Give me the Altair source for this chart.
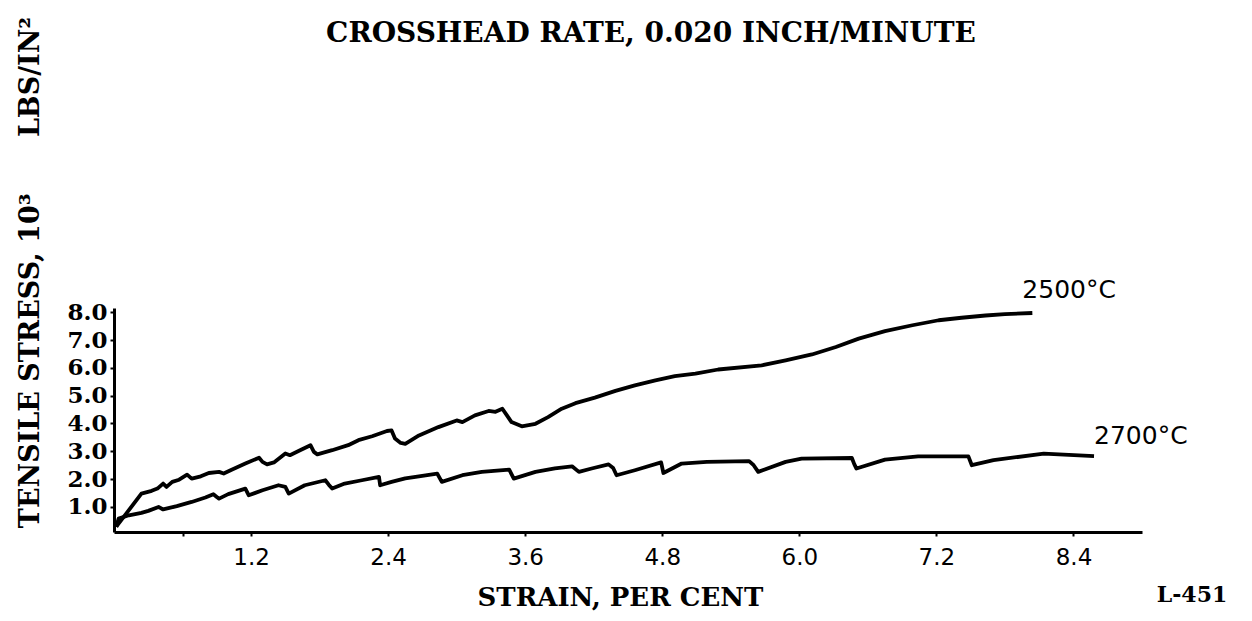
import altair as alt
import pandas as pd

# 2500 °C curve (strain %, stress 10^3 psi)
x_2500 = [0.02, 0.24, 0.33, 0.38, 0.43, 0.46, 0.51, 0.57, 0.64, 0.68, 0.76, 0.83, 0.92, 0.96,
          1.03, 1.15, 1.27, 1.30, 1.34, 1.40, 1.50, 1.54, 1.62, 1.72, 1.75, 1.78, 1.91, 2.05,
          2.14, 2.26, 2.39, 2.43, 2.46, 2.51, 2.55, 2.67, 2.84, 3.00, 3.05, 3.16, 3.28, 3.34,
          3.40, 3.44, 3.48, 3.57, 3.69, 3.80, 3.92, 4.04, 4.21, 4.39, 4.56, 4.74, 4.91, 5.09,
          5.29, 5.67, 5.88, 6.11, 6.32, 6.52, 6.75, 6.99, 7.22, 7.42, 7.63, 7.80, 8.04]
y_2500 = [0.29, 1.48, 1.58, 1.66, 1.84, 1.72, 1.90, 1.98, 2.16, 2.02, 2.10, 2.22, 2.26, 2.20,
          2.34, 2.56, 2.77, 2.62, 2.53, 2.60, 2.92, 2.86, 3.02, 3.22, 2.98, 2.89, 3.04, 3.22,
          3.40, 3.54, 3.73, 3.75, 3.46, 3.30, 3.27, 3.57, 3.87, 4.11, 4.05, 4.29, 4.45, 4.42,
          4.53, 4.29, 4.05, 3.90, 3.99, 4.23, 4.53, 4.73, 4.93, 5.17, 5.37, 5.55, 5.70, 5.79,
          5.94, 6.09, 6.27, 6.48, 6.75, 7.05, 7.32, 7.53, 7.71, 7.80, 7.88, 7.93, 7.97]

# 2700 °C curve
x_2700 = [0.02, 0.04, 0.13, 0.24, 0.30, 0.39, 0.43, 0.55, 0.68, 0.80, 0.87, 0.90, 0.92, 1.00,
          1.15, 1.18, 1.30, 1.44, 1.50, 1.53, 1.67, 1.85, 1.88, 1.91, 2.02, 2.17, 2.32, 2.33,
          2.43, 2.55, 2.64, 2.83, 2.87, 3.05, 3.22, 3.46, 3.50, 3.69, 3.86, 4.01, 4.07, 4.19,
          4.33, 4.37, 4.40, 4.56, 4.79, 4.81, 4.97, 5.19, 5.56, 5.60, 5.64, 5.88, 6.02, 6.46,
          6.48, 6.50, 6.75, 7.04, 7.48, 7.51, 7.70, 8.14, 8.58]
y_2700 = [0.28, 0.58, 0.70, 0.79, 0.86, 1.00, 0.91, 1.03, 1.18, 1.34, 1.46, 1.36, 1.30, 1.46,
          1.66, 1.42, 1.60, 1.78, 1.72, 1.48, 1.78, 1.96, 1.80, 1.66, 1.84, 1.96, 2.08, 1.78,
          1.90, 2.03, 2.08, 2.20, 1.90, 2.14, 2.26, 2.34, 2.02, 2.26, 2.39, 2.46, 2.26, 2.39,
          2.53, 2.40, 2.14, 2.32, 2.60, 2.22, 2.56, 2.62, 2.65, 2.50, 2.26, 2.62, 2.74, 2.76,
          2.55, 2.38, 2.70, 2.82, 2.82, 2.50, 2.68, 2.92, 2.83]

series_names = ["2500°C", "2700°C"]
x_ticks = [0.6, 1.2, 2.4, 3.6, 4.8, 6.0, 7.2, 8.4]
y_ticks = [1, 2, 3, 4, 5, 6, 7, 8]
title_text = "CROSSHEAD RATE, 0.020 INCH/MINUTE"
x_title = "STRAIN, PER CENT"
y_title = "TENSILE STRESS, 10³" + "\u00a0" * 6 + "LBS/IN²"
figure_id = "L-451"

rows = []
for name, xs, ys in [(series_names[0], x_2500, y_2500), (series_names[1], x_2700, y_2700)]:
    for i, (a, b) in enumerate(zip(xs, ys)):
        rows.append({"series": name, "order": i, "strain": a, "stress": b})
df = pd.DataFrame(rows)

end_2500 = pd.DataFrame([{"strain": x_2500[-1], "stress": y_2500[-1], "label": series_names[0]}])
end_2700 = pd.DataFrame([{"strain": x_2700[-1], "stress": y_2700[-1], "label": series_names[1]}])
fig_df = pd.DataFrame([{"t": figure_id}])
title_df = pd.DataFrame([{"t": title_text}])

W, H = 1028, 224
serif = "DejaVu Serif"
sans = "DejaVu Sans"

xscale = alt.Scale(domain=[0, 9.0], nice=False, zero=False)
yscale = alt.Scale(domain=[0.1, 8.15], nice=False, zero=False)

xaxis = alt.Axis(
    values=x_ticks, format=".1f",
    labelExpr="datum.label == '0.6' ? '' : datum.label",
    grid=False, domainColor="black", domainWidth=3, tickColor="black", tickWidth=2,
    tickSize=4, labelFont=sans, labelFontSize=23, labelColor="black", labelPadding=10,
    labelFlush=False, labelOverlap=False, title=x_title, titleFont=serif, titleFontSize=26,
    titleFontWeight="bold", titleColor="black", titleX=506, titleY=52,
    titleBaseline="top", titleAlign="center",
)
yaxis = alt.Axis(
    values=y_ticks, format=".1f", grid=False, domainColor="black", domainWidth=3,
    tickColor="black", tickWidth=2, tickSize=4, labelFont=serif, labelFontSize=23,
    labelFontWeight="bold", labelColor="black", labelPadding=3, labelFlush=False,
    labelOverlap=False, title=y_title, titleFont=serif, titleFontSize=27,
    titleFontWeight="bold", titleColor="black", titleAngle=270, titleX=-84, titleY=-36,
    titleBaseline="middle", titleAlign="center",
)

X = alt.X("strain:Q", scale=xscale, axis=xaxis)
Y = alt.Y("stress:Q", scale=yscale, axis=yaxis)

lines = alt.Chart(df).mark_line(color="black", strokeWidth=3.8, strokeJoin="round").encode(
    x=X, y=Y, detail="series:N", order="order:Q",
)

lab1 = alt.Chart(end_2500).mark_text(
    font=sans, fontSize=25, color="black", align="left", baseline="middle", dx=-10, dy=-23
).encode(x=X, y=Y, text="label:N")
lab2 = alt.Chart(end_2700).mark_text(
    font=sans, fontSize=25, color="black", align="left", baseline="middle", dx=0, dy=-20
).encode(x=X, y=Y, text="label:N")

figlab = alt.Chart(fig_df).mark_text(
    font=serif, fontSize=22, fontWeight="bold", color="black", align="center",
    baseline="middle"
).encode(x=alt.value(1078), y=alt.value(287), text="t:N")

titlelab = alt.Chart(title_df).mark_text(
    font=serif, fontSize=28, fontWeight="bold", color="black", align="center",
    baseline="alphabetic"
).encode(x=alt.value(537), y=alt.value(-266), text="t:N")

chart = alt.layer(lines, lab1, lab2, figlab, titlelab).properties(
    width=W, height=H,
    autosize=alt.AutoSizeParams(type="none"),
    padding={"left": 114, "top": 308, "right": 110, "bottom": 89},
    background="white",
).configure_view(strokeWidth=0)

chart.save("out.html", embed_options={"renderer": "svg", "actions": False})
